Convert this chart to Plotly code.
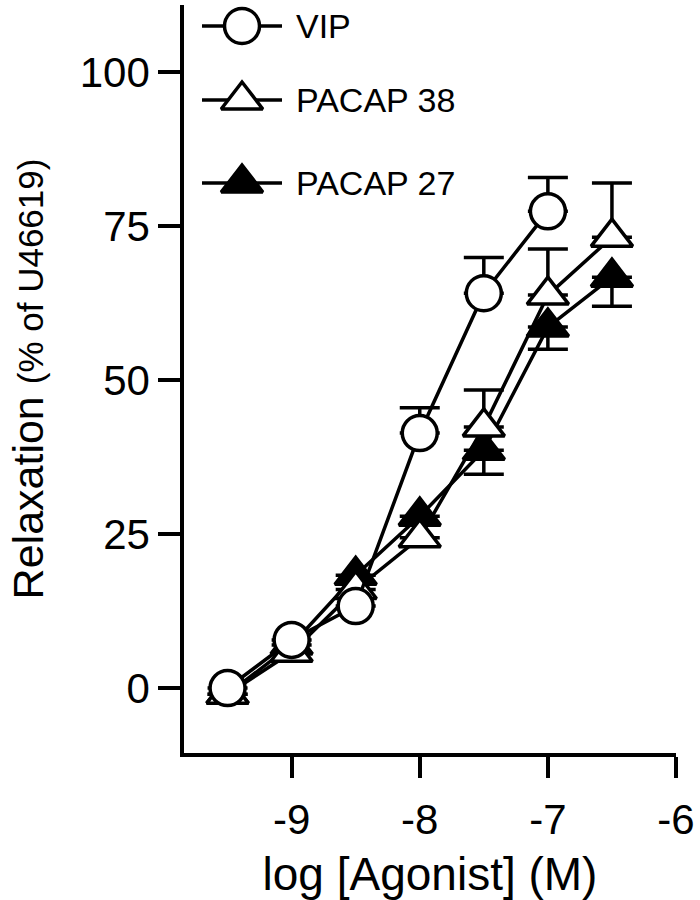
import plotly.graph_objects as go

# ---- data ----
log_conc_vip = [-9.5, -9.0, -8.5, -8.0, -7.5, -7.0]
vip = [0, 7.8, 13.3, 41.4, 64.1, 77.4]
vip_err = [0, 0, 0, 4.1, 5.8, 5.5]

log_conc_pacap = [-9.5, -9.0, -8.5, -8.0, -7.5, -7.0, -6.5]
pacap38 = [-1, 5.8, 16, 24.4, 42.4, 63.8, 73.2]
pacap38_err = [0, 0, 0, 0, 6.0, 7.5, 8.8]
pacap27 = [-1, 7, 18.3, 27.9, 38.6, 58.6, 66.7]
pacap27_err = [0, 0, 0, 0, 3.9, 3.6, 4.7]

x_ticks = [-9, -8, -7, -6]
y_ticks = [0, 25, 50, 75, 100]

series_names = ["VIP", "PACAP 38", "PACAP 27"]

# ---- styling / layout ----
FONT = "Liberation Sans, Arial, sans-serif"
LW = 3.5
W, H = 700, 900
ML, MR, MT, MB = 184, 24, 5, 147

styles = {
    "VIP": dict(symbol="circle", size=35, fill="white"),
    "PACAP 38": dict(symbol="triangle-up", size=36, fill="white"),
    "PACAP 27": dict(symbol="triangle-up", size=36, fill="black"),
}

# legend key placement in page pixel coordinates
legend_rows_y = {"VIP": 26, "PACAP 38": 100, "PACAP 27": 183}
legend_line_x = (202, 282)
legend_text_x = 294

fig = go.Figure()


def add_series(x, y, up, down, name):
    st = styles[name]
    fig.add_trace(go.Scatter(
        x=x, y=y, name=name, mode="lines+markers", showlegend=False,
        line=dict(color="black", width=LW),
        marker=dict(symbol=st["symbol"], size=st["size"], color=st["fill"],
                    line=dict(color="black", width=LW)),
        error_y=dict(type="data", symmetric=False, array=up, arrayminus=down,
                     color="black", thickness=LW, width=20),
        cliponaxis=False,
    ))


add_series(log_conc_pacap, pacap27, [0] * 7, pacap27_err, "PACAP 27")
add_series(log_conc_pacap, pacap38, pacap38_err, [0] * 7, "PACAP 38")
add_series(log_conc_vip, vip, vip_err, [0] * 6, "VIP")

# legend keys drawn on an overlay axis whose units are page pixels
for name in series_names:
    st = styles[name]
    yy = legend_rows_y[name]
    fig.add_trace(go.Scatter(
        x=list(legend_line_x), y=[yy, yy], mode="lines", showlegend=False,
        line=dict(color="black", width=LW), xaxis="x2", yaxis="y2",
        hoverinfo="skip", cliponaxis=False,
    ))
    fig.add_trace(go.Scatter(
        x=[(legend_line_x[0] + legend_line_x[1]) / 2], y=[yy], mode="markers",
        showlegend=False, xaxis="x2", yaxis="y2", hoverinfo="skip",
        marker=dict(symbol=st["symbol"], size=st["size"], color=st["fill"],
                    line=dict(color="black", width=LW)),
        cliponaxis=False,
    ))
    fig.add_annotation(
        x=legend_text_x, y=yy, xref="x2", yref="y2", text=name,
        showarrow=False, xanchor="left", yanchor="middle",
        font=dict(size=34, family=FONT, color="black"),
    )

fig.update_layout(
    width=W, height=H,
    margin=dict(l=ML, r=MR, t=MT, b=MB),
    paper_bgcolor="white", plot_bgcolor="white",
    font=dict(family=FONT, color="black"),
    showlegend=False,
    xaxis=dict(
        range=[-9.84, -6], tickmode="array", tickvals=x_ticks,
        ticktext=[str(v) for v in x_ticks],
        showline=True, linecolor="black", linewidth=LW,
        ticks="outside", ticklen=21, tickwidth=LW, tickcolor="black",
        ticklabelstandoff=6,
        showgrid=False, zeroline=False,
        tickfont=dict(size=42, family=FONT),
        title=dict(text="log [Agonist] (M)", font=dict(size=46, family=FONT), standoff=20),
    ),
    yaxis=dict(
        range=[-10.55, 110.9], tickmode="array", tickvals=y_ticks,
        ticktext=[str(v) for v in y_ticks],
        showline=True, linecolor="black", linewidth=LW,
        ticks="outside", ticklen=22, tickwidth=LW, tickcolor="black",
        showgrid=False, zeroline=False,
        tickfont=dict(size=42, family=FONT),
        title=dict(text="Relaxation <span style='font-size:35px'>(% of U46619)</span>",
                   font=dict(size=43, family=FONT), standoff=24),
    ),
    xaxis2=dict(overlaying="x", range=[ML, W - MR], visible=False, fixedrange=True),
    yaxis2=dict(overlaying="y", range=[H - MB, MT], visible=False, fixedrange=True),
)

fig.write_html(
    "out.html",
    config={"displayModeBar": False},
    post_script="document.body.style.margin='0px';document.body.style.overflow='hidden';",
)
